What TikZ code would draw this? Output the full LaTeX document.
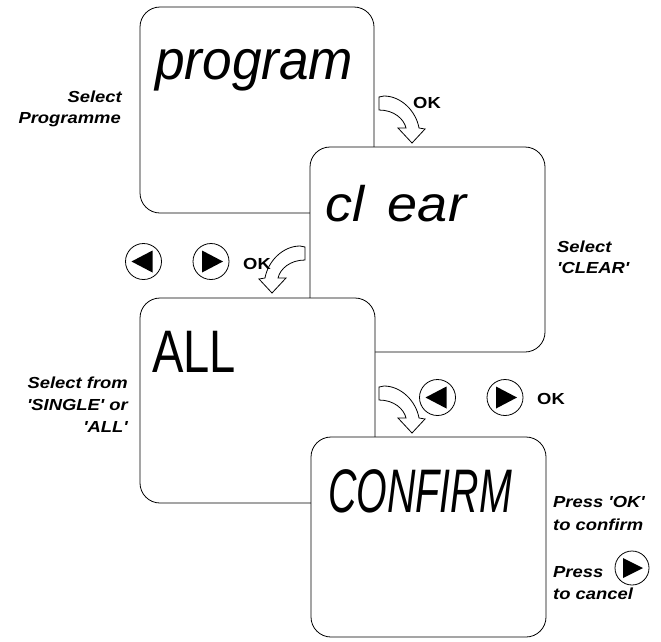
\documentclass[tikz,border=0pt]{standalone}
\usepackage{fontspec}
\newfontfamily\dispfont{Liberation Sans}
\newfontfamily\lblfont[FakeStretch=1.15]{Liberation Sans}
\tikzset{
  screen/.style={draw, fill=white, rounded corners=20pt, line width=0.8pt, inner sep=0pt},
  disptxt/.style={inner sep=0pt, anchor=base west, font=\dispfont},
  lbl/.style={inner sep=0pt, font=\lblfont\bfseries\itshape\fontsize{16}{20}\selectfont},
  oktxt/.style={inner sep=0pt, anchor=base west, font=\lblfont\bfseries\fontsize{16}{20}\selectfont},
  btn/.style={draw, circle, line width=0.8pt, minimum size=36pt, inner sep=0pt},
  smallbtn/.style={btn, minimum size=34pt},
  blockarrow/.pic={
    \draw[fill=white, line width=0.8pt, line join=miter]
      (0,0) -- (5,-1) .. controls (22,-1) and (37,14) .. (40,31)
      -- (46,32) -- (33,46) -- (19,31) -- (27,31)
      .. controls (25,22) and (15,13) .. (0,13) -- cycle;
  }
}
\begin{document}
\begin{tikzpicture}[x=1pt, y=-1pt]
\path[use as bounding box, fill=white] (0,0) rectangle (661,641);

% screens
\node[screen, minimum width=234pt, minimum height=206pt] (s1) at (257,110) {};
\node[screen, minimum width=235pt, minimum height=205pt] (s2) at (427.5,249.5) {};
\node[screen, minimum width=235pt, minimum height=205pt] (s3) at (257.5,400.5) {};
\node[screen, minimum width=235pt, minimum height=200pt] (s4) at (428.5,537) {};

% display texts
\node[disptxt] (t1) at (155,79) {\fontsize{56}{60}\selectfont\itshape\scalebox{0.95}[1]{program}};
\node[disptxt] (t2) at (325,221) {\fontsize{50}{54}\selectfont\itshape\scalebox{1.08}[1]{\spaceskip=22pt cl ear}};
\node[disptxt] (t3) at (152,372) {\fontsize{60}{64}\selectfont\scalebox{0.785}[1]{ALL}};
\node[disptxt] (t4) at (328,512) {\fontsize{61.5}{66}\selectfont\itshape\scalebox{0.64}[1]{CONFIRM}};

% block arrows
\pic at (379,97) {blockarrow};
\pic[xscale=-1] at (305,247) {blockarrow};
\pic at (379,387) {blockarrow};

% OK labels
\node[oktxt] (ok1) at (413,108) {OK};
\node[oktxt] (ok2) at (243,269) {OK};
\node[oktxt] (ok3) at (537,404) {OK};

% buttons row 1
\node[btn] (b1l) at (143.5,261.5) {};
\fill (b1l.center) ++(-12,0) -- ++(21,-11) -- ++(0,22) -- cycle;
\node[btn] (b1r) at (211,261.5) {};
\fill (b1r.center) ++(12,0) -- ++(-21,-11) -- ++(0,22) -- cycle;

% buttons row 2
\node[btn] (b2l) at (437.5,397.5) {};
\fill (b2l.center) ++(-12,0) -- ++(21,-11) -- ++(0,22) -- cycle;
\node[btn] (b2r) at (505,397.5) {};
\fill (b2r.center) ++(12,0) -- ++(-21,-11) -- ++(0,22) -- cycle;

% side labels
\node[lbl, anchor=base east] (l1a) at (122,102) {Select};
\node[lbl, anchor=base east] (l1b) at (121,123) {Programme};

\node[lbl, anchor=base west] (l2a) at (557,252) {Select};
\node[lbl, anchor=base west] (l2b) at (557,273) {'CLEAR'};

\node[lbl, anchor=base east] (l3a) at (128,388) {Select from};
\node[lbl, anchor=base east] (l3b) at (128,410) {'SINGLE' or};
\node[lbl, anchor=base east] (l3c) at (128,432) {'ALL'};

\node[lbl, anchor=base west] (l4a) at (553,507) {Press 'OK'};
\node[lbl, anchor=base west] (l4b) at (553,530) {to confirm};
\node[lbl, anchor=base west] (l4c) at (553,577) {Press};
\node[lbl, anchor=base west] (l4d) at (553,599) {to cancel};
\node[smallbtn] (b3) at (632,568) {};
\fill (b3.center) ++(11,0) -- ++(-20,-10) -- ++(0,20) -- cycle;
\end{tikzpicture}
\end{document}
